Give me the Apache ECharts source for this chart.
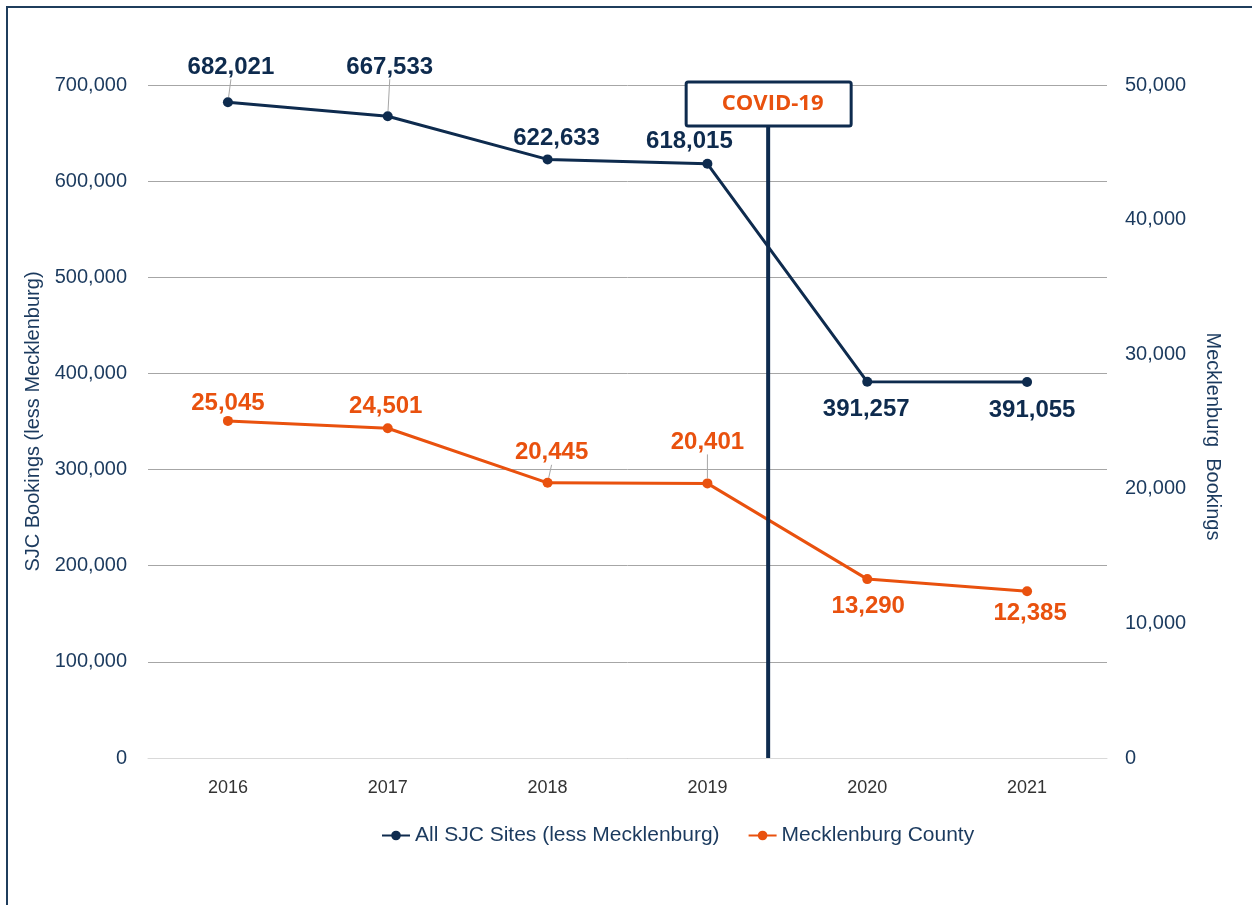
<!DOCTYPE html>
<html>
<head>
<meta charset="utf-8">
<script src="https://cdn.jsdelivr.net/npm/echarts@6/dist/echarts.min.js"></script>
<style>
  html, body { margin: 0; padding: 0; background: #fff; }
  #chart { width: 1252px; height: 905px; }
</style>
</head>
<body>
<div id="chart"></div>
<script>
const years = ['2016', '2017', '2018', '2019', '2020', '2021'];
const sjcBookings = [682021, 667533, 622633, 618015, 391257, 391055];
const mecklenburgBookings = [25045, 24501, 20445, 20401, 13290, 12385];

// label nudges (px) so labels sit like the original
const sjcLabelShift = [[3, -13], [2, -27], [9, 1], [-18, 0], [-1, 6], [5, 6]];
const meckLabelShift = [[0, 4], [-2, 0], [4, -8], [0, -19], [1, 5], [3, 0]];
const sjcLabelBelow = [false, false, false, false, true, true];
const meckLabelBelow = [false, false, false, false, true, true];
const sjcLeader = [true, true, false, false, false, false];
const meckLeader = [false, false, true, true, false, false];

const NAVY = '#0e2b4e';
const ORANGE = '#e9510e';
const TEXT = '#1b3a5e';

const fmt = (v) => v.toLocaleString('en-US');

const chart = echarts.init(document.getElementById('chart'));

const makeData = (values, below, leader) =>
  values.map((v, i) => ({
    value: v,
    label: { position: below[i] ? 'bottom' : 'top' },
    labelLine: { show: leader[i] },
  }));

const option = {
  backgroundColor: '#fff',
  animation: false,
  textStyle: { fontFamily: 'Liberation Sans, Arial, sans-serif' },
  grid: { left: 148, right: 145, top: 85, bottom: 147 },
  legend: {
    bottom: 54,
    left: 376,
    itemGap: 28,
    itemWidth: 28,
    itemHeight: 12,
    textStyle: { color: TEXT, fontSize: 21 },
    data: ['All SJC Sites (less Mecklenburg)', 'Mecklenburg County'],
  },
  xAxis: {
    type: 'category',
    data: years,
    boundaryGap: true,
    axisLine: { lineStyle: { color: '#d9d9d9', width: 1 } },
    axisTick: { show: false },
    axisLabel: { color: '#333', fontSize: 18, margin: 21 },
  },
  yAxis: [
    {
      type: 'value',
      min: 0,
      max: 700000,
      interval: 100000,
      name: 'SJC Bookings (less Mecklenburg)',
      nameLocation: 'middle',
      nameGap: 105,
      nameTextStyle: { color: TEXT, fontSize: 20 },
      axisLabel: { color: TEXT, fontSize: 20, margin: 21, formatter: (v) => fmt(v) },
      axisLine: { show: false },
      axisTick: { show: false },
      splitLine: { lineStyle: { color: '#a6a6a6', width: 1 } },
    },
    {
      type: 'value',
      min: 0,
      max: 50000,
      interval: 10000,
      name: 'Mecklenburg  Bookings',
      nameLocation: 'middle',
      nameRotate: -90,
      nameGap: 96,
      nameTextStyle: { color: TEXT, fontSize: 20, padding: [0, 0, 0, 30] },
      axisLabel: { color: TEXT, fontSize: 20, margin: 18, formatter: (v) => fmt(v) },
      axisLine: { show: false },
      axisTick: { show: false },
      splitLine: { show: false },
    },
  ],
  series: [
    {
      name: 'All SJC Sites (less Mecklenburg)',
      type: 'line',
      yAxisIndex: 0,
      data: makeData(sjcBookings, sjcLabelBelow, sjcLeader),
      symbol: 'circle',
      symbolSize: 10,
      lineStyle: { color: NAVY, width: 3 },
      itemStyle: { color: NAVY },
      label: {
        show: true,
        color: NAVY,
        fontSize: 24,
        fontWeight: 'bold',
        formatter: (p) => fmt(p.value),
      },
      labelLine: { lineStyle: { color: '#a6a6a6', width: 1 } },
      labelLayout: (p) => ({ dx: sjcLabelShift[p.dataIndex][0], dy: sjcLabelShift[p.dataIndex][1] }),
    },
    {
      name: 'Mecklenburg County',
      type: 'line',
      yAxisIndex: 1,
      data: makeData(mecklenburgBookings, meckLabelBelow, meckLeader),
      symbol: 'circle',
      symbolSize: 10,
      lineStyle: { color: ORANGE, width: 3 },
      itemStyle: { color: ORANGE },
      label: {
        show: true,
        color: ORANGE,
        fontSize: 24,
        fontWeight: 'bold',
        formatter: (p) => fmt(p.value),
      },
      labelLine: { lineStyle: { color: '#a6a6a6', width: 1 } },
      labelLayout: (p) => ({ dx: meckLabelShift[p.dataIndex][0], dy: meckLabelShift[p.dataIndex][1] }),
    },
  ],
};

chart.setOption(option);

// COVID-19 marker between 2019 and 2020, plus the outer frame
const x2019 = chart.convertToPixel({ xAxisIndex: 0 }, '2019');
const x2020 = chart.convertToPixel({ xAxisIndex: 0 }, '2020');
const covidX = x2019 + (x2020 - x2019) * 0.38;
const yZero = chart.convertToPixel({ yAxisIndex: 0 }, 0);
const boxW = 165;
const boxH = 44;
const boxTop = 82;

chart.setOption({
  graphic: [
    {
      type: 'rect',
      shape: { x: 7, y: 7, width: 1400, height: 1000 },
      style: { fill: null, stroke: '#1f3d5c', lineWidth: 2 },
      z: 1,
    },
    {
      type: 'line',
      shape: { x1: covidX, y1: boxTop + boxH, x2: covidX, y2: yZero },
      style: { stroke: NAVY, lineWidth: 4 },
      z: 100,
    },
    {
      type: 'rect',
      shape: { x: covidX - 82, y: boxTop, width: boxW, height: boxH, r: 2 },
      style: { fill: '#fff', stroke: NAVY, lineWidth: 3 },
      z: 100,
    },
    {
      type: 'text',
      x: covidX - 82 + boxW / 2 + 4,
      y: boxTop + boxH / 2,
      style: {
        text: 'COVID-19',
        fill: ORANGE,
        font: 'bold 22px "Open Sans", "Liberation Sans", sans-serif',
        align: 'center',
        verticalAlign: 'middle',
      },
      z: 101,
    },
  ],
});
</script>
</body>
</html>
